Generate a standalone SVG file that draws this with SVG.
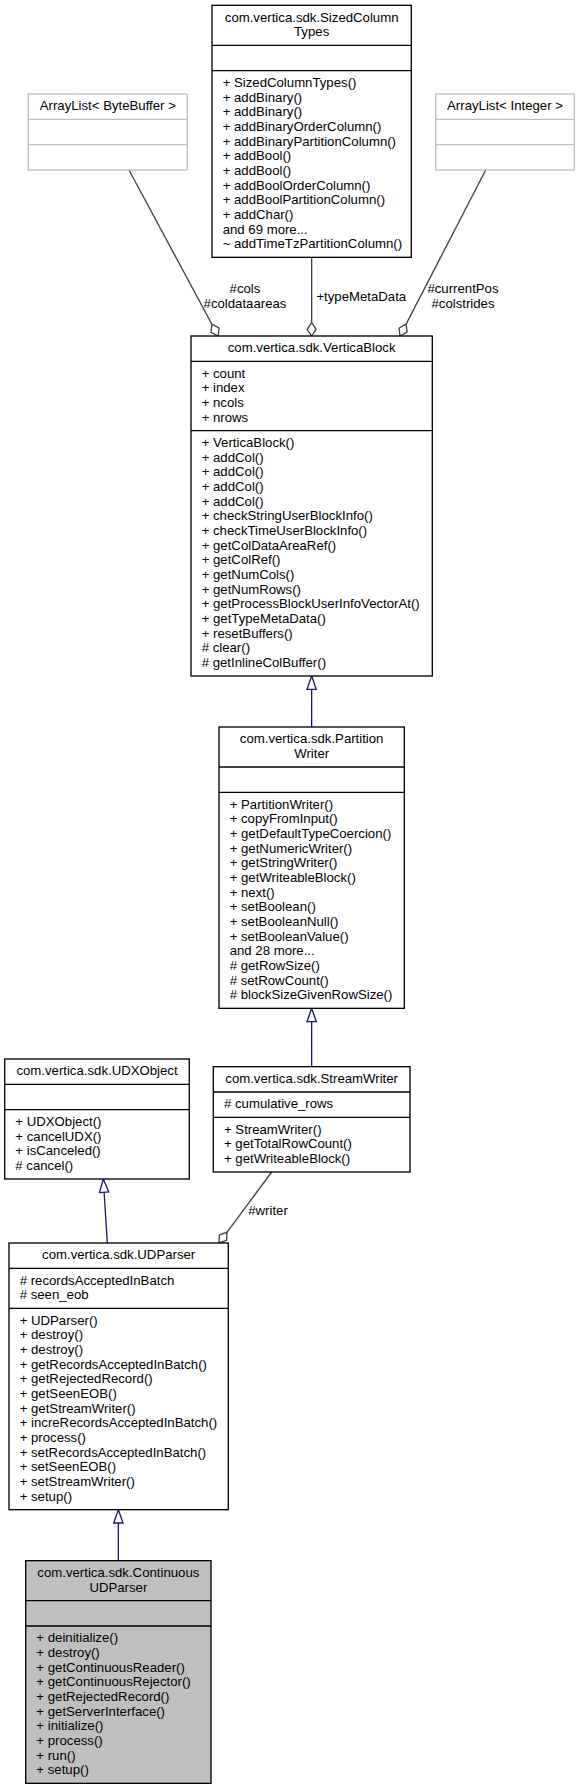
<svg xmlns="http://www.w3.org/2000/svg" width="580" height="1789" viewBox="0 0 580 1789">
<style>
text{font-family:"Liberation Sans",Arial,Helvetica,sans-serif;font-size:13.2px;fill:#000}
.t{text-anchor:middle}
.box{fill:#fff;stroke:#000;stroke-width:1.33}
.gbox{fill:#fff;stroke:#bfbfbf;stroke-width:1.33}
.cur{fill:#bfbfbf;stroke:#000;stroke-width:1.33}
.sep{stroke:#000;stroke-width:1.33}
.gsep{stroke:#bfbfbf;stroke-width:1.33}
.inh{stroke:#191970;stroke-width:1.33;fill:none}
.inhh{stroke:#191970;stroke-width:1.33;fill:#fff}
.agg{stroke:#404040;stroke-width:1.33;fill:none}
.aggh{stroke:#404040;stroke-width:1.33;fill:#fff}
</style>
<rect x="0" y="0" width="580" height="1789" fill="#fff"/>

<g id="connectors">
  <line class="agg" x1="129" y1="170" x2="211.89" y2="324.26"/>
  <polygon class="aggh" points="218.2,336 219,328 211.89,324.26 211.08,332.26"/>
  <text class="t" x="245" y="293">#cols</text>
  <text class="t" x="245" y="307.7">#coldataareas</text>

  <line class="agg" x1="311.65" y1="257.33" x2="311.65" y2="322.67"/>
  <polygon class="aggh" points="311.65,336 316.15,329.33 311.65,322.67 307.15,329.33"/>
  <text class="t" x="361.3" y="300.5">+typeMetaData</text>

  <line class="agg" x1="485.7" y1="170" x2="406.11" y2="324.15"/>
  <polygon class="aggh" points="400,336 407.06,332.13 406.11,324.15 399.06,328.01"/>
  <text class="t" x="463" y="293">#currentPos</text>
  <text class="t" x="463" y="307.7">#colstrides</text>

  <line class="agg" x1="271.7" y1="1172" x2="226.95" y2="1232.3"/>
  <polygon class="aggh" points="219,1243 226.58,1240.33 226.95,1232.3 219.36,1234.97"/>
  <text class="t" x="268" y="1215.2">#writer</text>

  <line class="inh" x1="311.65" y1="727" x2="311.65" y2="689.33"/>
  <polygon class="inhh" points="311.65,676 316.32,689.33 306.98,689.33"/>

  <line class="inh" x1="311.65" y1="1066.67" x2="311.65" y2="1021.67"/>
  <polygon class="inhh" points="311.65,1008.33 316.32,1021.67 306.98,1021.67"/>

  <line class="inh" x1="107.3" y1="1243" x2="104.13" y2="1192.3"/>
  <polygon class="inhh" points="103.3,1179 108.78,1192 99.48,1192.6"/>

  <line class="inh" x1="118.35" y1="1560.67" x2="118.35" y2="1523"/>
  <polygon class="inhh" points="118.35,1509.67 123.02,1523 113.68,1523"/>
</g>

<g id="node-SizedColumnTypes">
  <rect class="box" x="212" y="5.33" width="199.3" height="252"/>
  <line class="sep" x1="212" y1="45.33" x2="411.3" y2="45.33"/>
  <line class="sep" x1="212" y1="70.67" x2="411.3" y2="70.67"/>
  <text class="t" x="311.65" y="21.73">com.vertica.sdk.SizedColumn</text>
  <text class="t" x="311.65" y="36.4">Types</text>
  <text x="222.67" y="87.07">+ SizedColumnTypes()</text>
  <text x="222.67" y="101.73">+ addBinary()</text>
  <text x="222.67" y="116.4">+ addBinary()</text>
  <text x="222.67" y="131.07">+ addBinaryOrderColumn()</text>
  <text x="222.67" y="145.73">+ addBinaryPartitionColumn()</text>
  <text x="222.67" y="160.4">+ addBool()</text>
  <text x="222.67" y="175.07">+ addBool()</text>
  <text x="222.67" y="189.73">+ addBoolOrderColumn()</text>
  <text x="222.67" y="204.4">+ addBoolPartitionColumn()</text>
  <text x="222.67" y="219.07">+ addChar()</text>
  <text x="222.67" y="233.73">and 69 more...</text>
  <text x="222.67" y="248.4">~ addTimeTzPartitionColumn()</text>
</g>

<g id="node-ArrayListByteBuffer">
  <rect class="gbox" x="28.3" y="94" width="159" height="76"/>
  <line class="gsep" x1="28.3" y1="119.33" x2="187.3" y2="119.33"/>
  <line class="gsep" x1="28.3" y1="144.67" x2="187.3" y2="144.67"/>
  <text class="t" x="107.8" y="110.4">ArrayList&lt; ByteBuffer &gt;</text>
</g>

<g id="node-ArrayListInteger">
  <rect class="gbox" x="435.7" y="94" width="138.6" height="76"/>
  <line class="gsep" x1="435.7" y1="119.33" x2="574.3" y2="119.33"/>
  <line class="gsep" x1="435.7" y1="144.67" x2="574.3" y2="144.67"/>
  <text class="t" x="505" y="110.4">ArrayList&lt; Integer &gt;</text>
</g>

<g id="node-VerticaBlock">
  <rect class="box" x="191" y="336" width="241.3" height="340"/>
  <line class="sep" x1="191" y1="361.33" x2="432.3" y2="361.33"/>
  <line class="sep" x1="191" y1="430.67" x2="432.3" y2="430.67"/>
  <text class="t" x="311.65" y="352.4">com.vertica.sdk.VerticaBlock</text>
  <text x="201.67" y="377.73">+ count</text>
  <text x="201.67" y="392.4">+ index</text>
  <text x="201.67" y="407.07">+ ncols</text>
  <text x="201.67" y="421.73">+ nrows</text>
  <text x="201.67" y="447.07">+ VerticaBlock()</text>
  <text x="201.67" y="461.73">+ addCol()</text>
  <text x="201.67" y="476.4">+ addCol()</text>
  <text x="201.67" y="491.07">+ addCol()</text>
  <text x="201.67" y="505.73">+ addCol()</text>
  <text x="201.67" y="520.4">+ checkStringUserBlockInfo()</text>
  <text x="201.67" y="535.07">+ checkTimeUserBlockInfo()</text>
  <text x="201.67" y="549.73">+ getColDataAreaRef()</text>
  <text x="201.67" y="564.4">+ getColRef()</text>
  <text x="201.67" y="579.07">+ getNumCols()</text>
  <text x="201.67" y="593.73">+ getNumRows()</text>
  <text x="201.67" y="608.4">+ getProcessBlockUserInfoVectorAt()</text>
  <text x="201.67" y="623.07">+ getTypeMetaData()</text>
  <text x="201.67" y="637.73">+ resetBuffers()</text>
  <text x="201.67" y="652.4"># clear()</text>
  <text x="201.67" y="667.07"># getInlineColBuffer()</text>
</g>

<g id="node-PartitionWriter">
  <rect class="box" x="219" y="727" width="185.3" height="281.33"/>
  <line class="sep" x1="219" y1="767" x2="404.3" y2="767"/>
  <line class="sep" x1="219" y1="792.33" x2="404.3" y2="792.33"/>
  <text class="t" x="311.65" y="743.4">com.vertica.sdk.Partition</text>
  <text class="t" x="311.65" y="758.07">Writer</text>
  <text x="229.67" y="808.73">+ PartitionWriter()</text>
  <text x="229.67" y="823.4">+ copyFromInput()</text>
  <text x="229.67" y="838.07">+ getDefaultTypeCoercion()</text>
  <text x="229.67" y="852.73">+ getNumericWriter()</text>
  <text x="229.67" y="867.4">+ getStringWriter()</text>
  <text x="229.67" y="882.07">+ getWriteableBlock()</text>
  <text x="229.67" y="896.73">+ next()</text>
  <text x="229.67" y="911.4">+ setBoolean()</text>
  <text x="229.67" y="926.07">+ setBooleanNull()</text>
  <text x="229.67" y="940.73">+ setBooleanValue()</text>
  <text x="229.67" y="955.4">and 28 more...</text>
  <text x="229.67" y="970.07"># getRowSize()</text>
  <text x="229.67" y="984.73"># setRowCount()</text>
  <text x="229.67" y="999.4"># blockSizeGivenRowSize()</text>
</g>

<g id="node-StreamWriter">
  <rect class="box" x="213.3" y="1066.67" width="196.7" height="105.33"/>
  <line class="sep" x1="213.3" y1="1092" x2="410" y2="1092"/>
  <line class="sep" x1="213.3" y1="1117.33" x2="410" y2="1117.33"/>
  <text class="t" x="311.65" y="1083.07">com.vertica.sdk.StreamWriter</text>
  <text x="223.97" y="1108.4"># cumulative_rows</text>
  <text x="223.97" y="1133.73">+ StreamWriter()</text>
  <text x="223.97" y="1148.4">+ getTotalRowCount()</text>
  <text x="223.97" y="1163.07">+ getWriteableBlock()</text>
</g>

<g id="node-UDXObject">
  <rect class="box" x="4.7" y="1059" width="184.6" height="120"/>
  <line class="sep" x1="4.7" y1="1084.33" x2="189.3" y2="1084.33"/>
  <line class="sep" x1="4.7" y1="1109.67" x2="189.3" y2="1109.67"/>
  <text class="t" x="97" y="1075.4">com.vertica.sdk.UDXObject</text>
  <text x="15.37" y="1126.07">+ UDXObject()</text>
  <text x="15.37" y="1140.73">+ cancelUDX()</text>
  <text x="15.37" y="1155.4">+ isCanceled()</text>
  <text x="15.37" y="1170.07"># cancel()</text>
</g>

<g id="node-UDParser">
  <rect class="box" x="9" y="1243" width="219.3" height="266.67"/>
  <line class="sep" x1="9" y1="1268.33" x2="228.3" y2="1268.33"/>
  <line class="sep" x1="9" y1="1308.33" x2="228.3" y2="1308.33"/>
  <text class="t" x="118.65" y="1259.4">com.vertica.sdk.UDParser</text>
  <text x="19.67" y="1284.73"># recordsAcceptedInBatch</text>
  <text x="19.67" y="1299.4"># seen_eob</text>
  <text x="19.67" y="1324.73">+ UDParser()</text>
  <text x="19.67" y="1339.4">+ destroy()</text>
  <text x="19.67" y="1354.07">+ destroy()</text>
  <text x="19.67" y="1368.73">+ getRecordsAcceptedInBatch()</text>
  <text x="19.67" y="1383.4">+ getRejectedRecord()</text>
  <text x="19.67" y="1398.07">+ getSeenEOB()</text>
  <text x="19.67" y="1412.73">+ getStreamWriter()</text>
  <text x="19.67" y="1427.4">+ increRecordsAcceptedInBatch()</text>
  <text x="19.67" y="1442.07">+ process()</text>
  <text x="19.67" y="1456.73">+ setRecordsAcceptedInBatch()</text>
  <text x="19.67" y="1471.4">+ setSeenEOB()</text>
  <text x="19.67" y="1486.07">+ setStreamWriter()</text>
  <text x="19.67" y="1500.73">+ setup()</text>
</g>

<g id="node-ContinuousUDParser">
  <rect class="cur" x="25.7" y="1560.67" width="185.3" height="222.67"/>
  <line class="sep" x1="25.7" y1="1600.67" x2="211" y2="1600.67"/>
  <line class="sep" x1="25.7" y1="1626" x2="211" y2="1626"/>
  <text class="t" x="118.35" y="1577.07">com.vertica.sdk.Continuous</text>
  <text class="t" x="118.35" y="1591.73">UDParser</text>
  <text x="36.37" y="1642.4">+ deinitialize()</text>
  <text x="36.37" y="1657.07">+ destroy()</text>
  <text x="36.37" y="1671.73">+ getContinuousReader()</text>
  <text x="36.37" y="1686.4">+ getContinuousRejector()</text>
  <text x="36.37" y="1701.07">+ getRejectedRecord()</text>
  <text x="36.37" y="1715.73">+ getServerInterface()</text>
  <text x="36.37" y="1730.4">+ initialize()</text>
  <text x="36.37" y="1745.07">+ process()</text>
  <text x="36.37" y="1759.73">+ run()</text>
  <text x="36.37" y="1774.4">+ setup()</text>
</g>
</svg>
